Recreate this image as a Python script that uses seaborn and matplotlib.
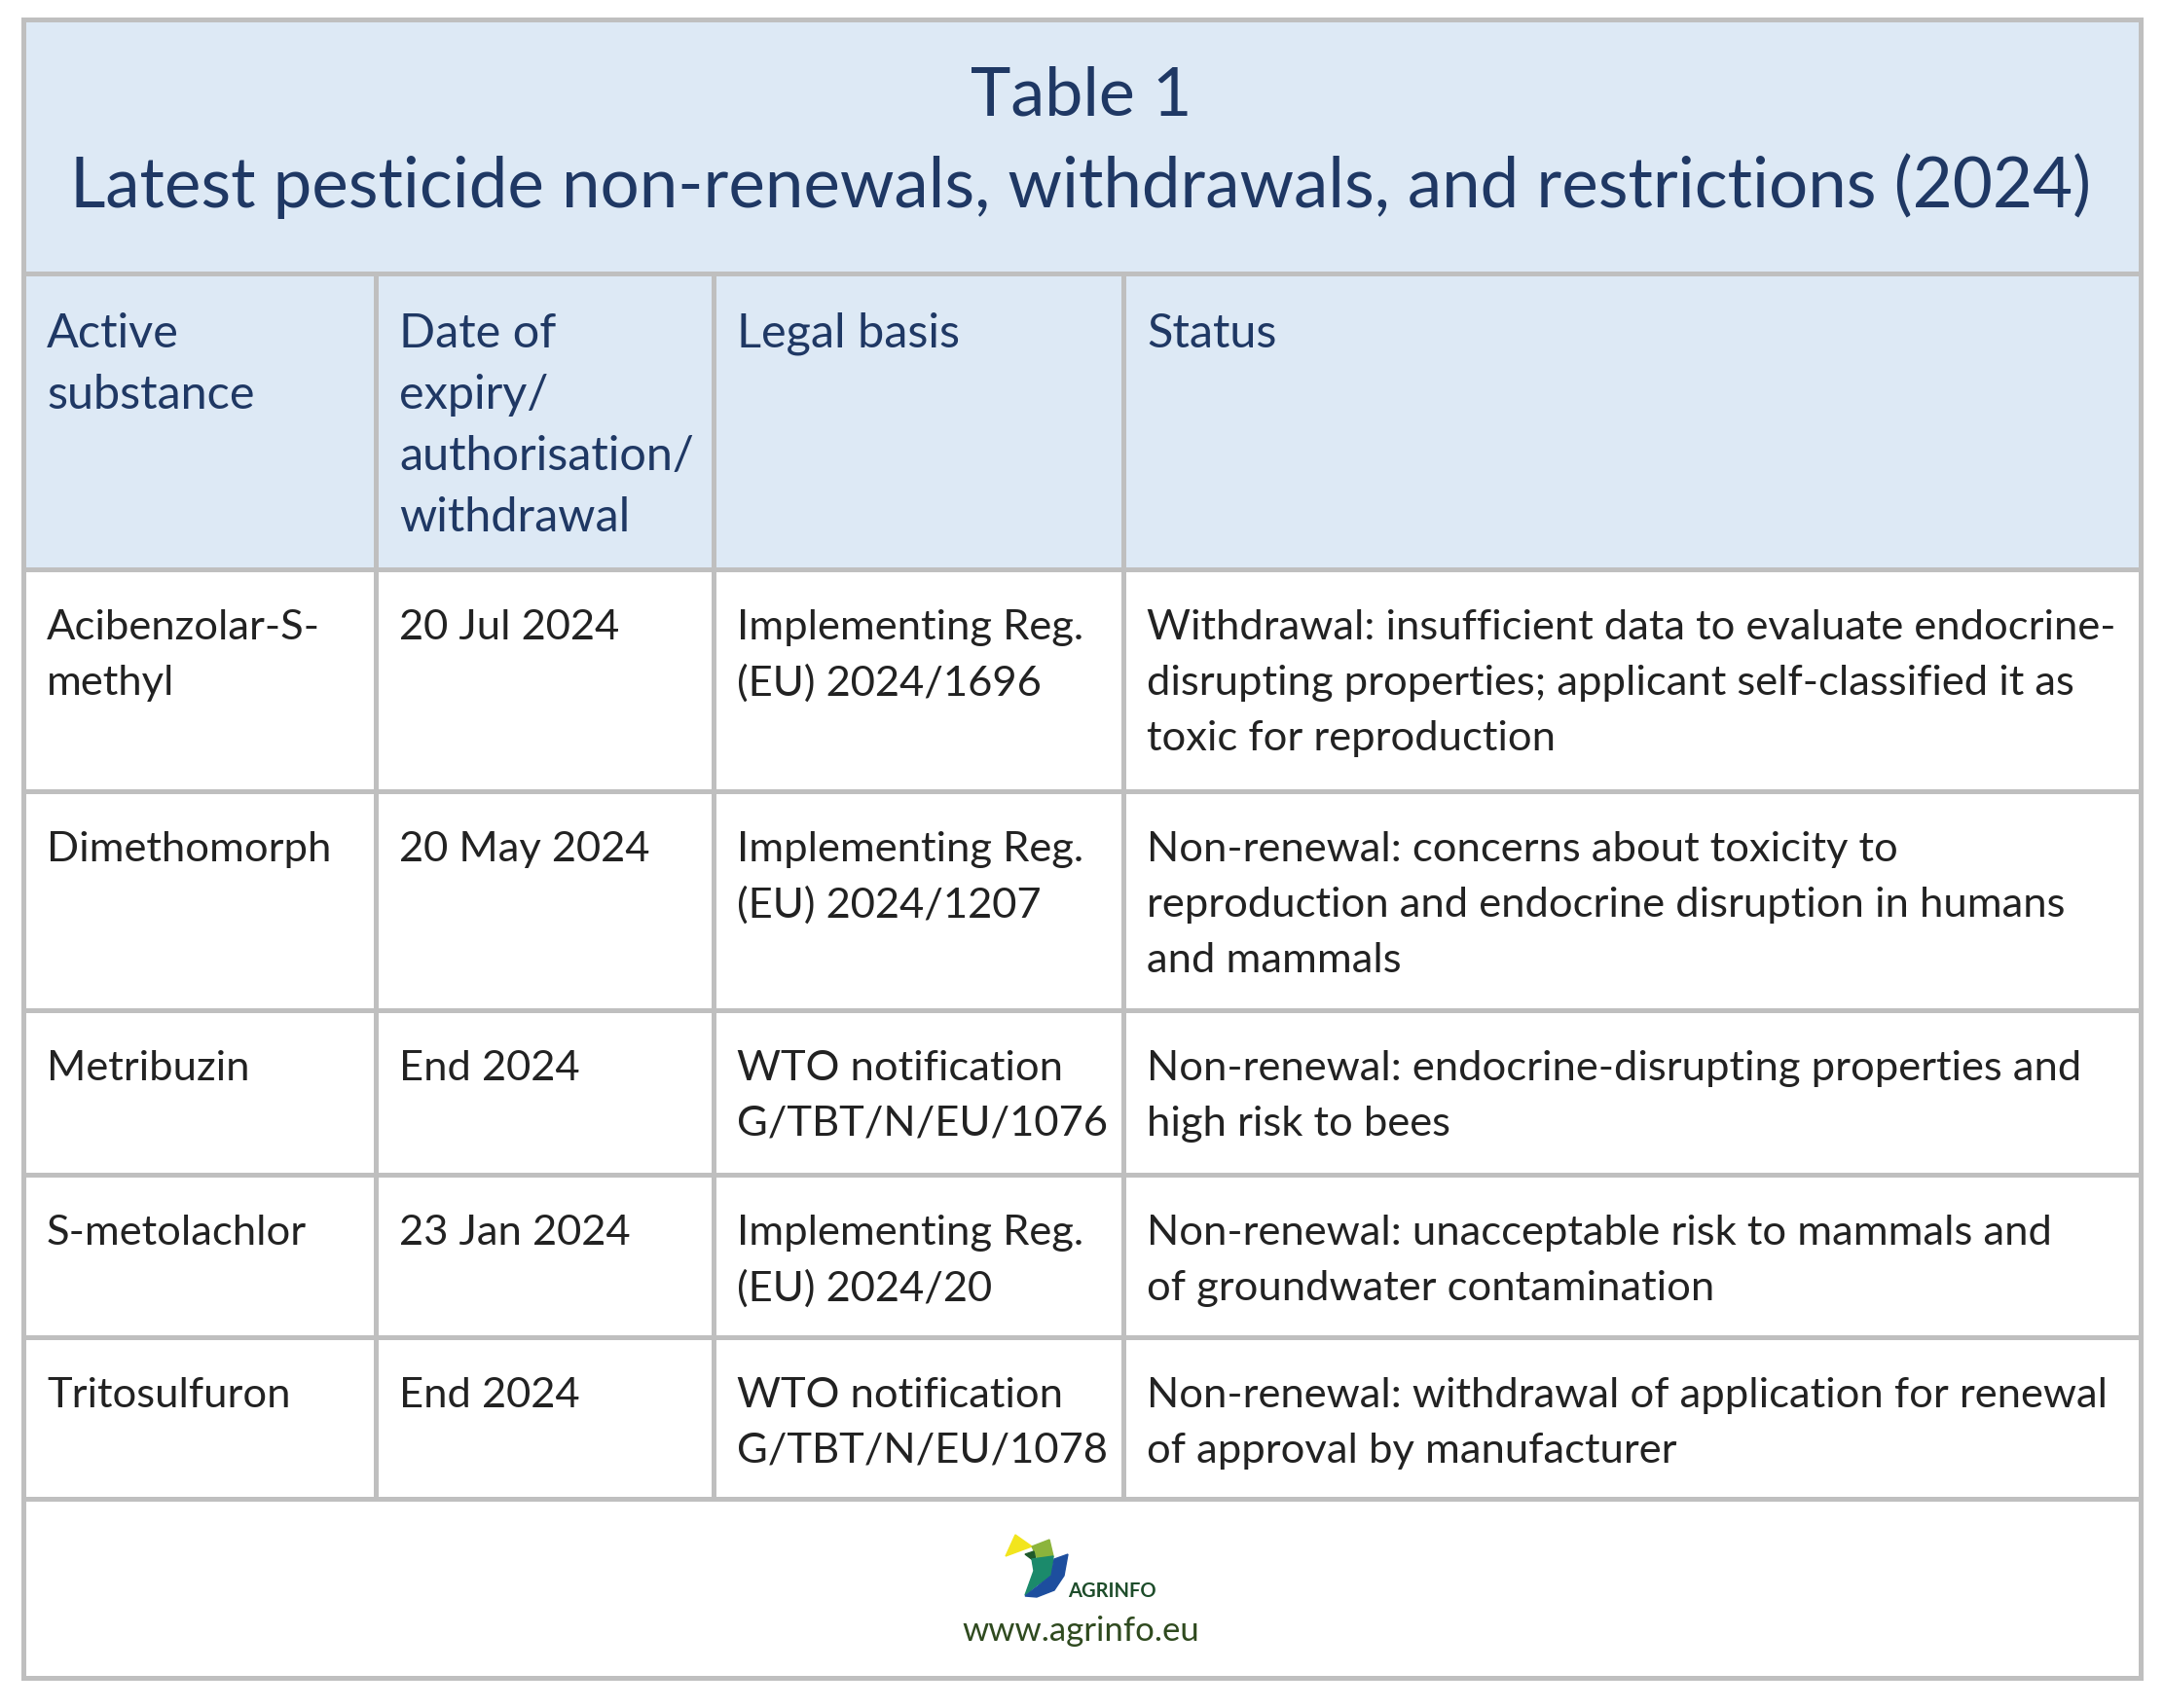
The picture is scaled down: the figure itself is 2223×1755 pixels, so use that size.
import seaborn as sns
import matplotlib.pyplot as plt
from matplotlib.patches import Rectangle, Polygon

sns.set_theme(style="white")
plt.rcParams['font.family'] = ['Lato', 'DejaVu Sans']

# datos de la tabla
title_lines = ["Table 1", "Latest pesticide non-renewals, withdrawals, and restrictions (2024)"]
headers = ["Active\nsubstance", "Date of\nexpiry/\nauthorisation/\nwithdrawal", "Legal basis", "Status"]
substances = ["Acibenzolar-S-\nmethyl", "Dimethomorph", "Metribuzin", "S-metolachlor", "Tritosulfuron"]
dates = ["20 Jul 2024", "20 May 2024", "End 2024", "23 Jan 2024", "End 2024"]
legal_basis = [
    "Implementing Reg.\n(EU) 2024/1696",
    "Implementing Reg.\n(EU) 2024/1207",
    "WTO notification\nG/TBT/N/EU/1076",
    "Implementing Reg.\n(EU) 2024/20",
    "WTO notification\nG/TBT/N/EU/1078",
]
status = [
    "Withdrawal: insufficient data to evaluate endocrine-\ndisrupting properties; applicant self-classified it as\ntoxic for reproduction",
    "Non-renewal: concerns about toxicity to\nreproduction and endocrine disruption in humans\nand mammals",
    "Non-renewal: endocrine-disrupting properties and\nhigh risk to bees",
    "Non-renewal: unacceptable risk to mammals and\nof groundwater contamination",
    "Non-renewal: withdrawal of application for renewal\nof approval by manufacturer",
]
footer_url = "www.agrinfo.eu"

# layout (px)
W, H = 2223, 1756
col_x = [24, 386, 733, 1154, 2199]
row_y = [21, 282, 586, 814, 1039, 1208, 1375, 1541, 1725]

blue_bg = "#dde9f5"
navy = "#1f3864"
grid = "#bfbfbf"
body = "#222222"

fig = plt.figure(figsize=(W / 100, H / 100), dpi=100)
ax = fig.add_axes([0, 0, 1, 1])
ax.set_xlim(0, W)
ax.set_ylim(H, 0)
ax.axis("off")

# fondos
ax.add_patch(Rectangle((col_x[0], row_y[0]), col_x[-1] - col_x[0], row_y[2] - row_y[0], color=blue_bg, zorder=0))

# lineas
lw = 3.6
for y in row_y:
    ax.plot([col_x[0], col_x[-1]], [y, y], color=grid, lw=lw, solid_capstyle="projecting", zorder=2)
for x in [col_x[0], col_x[-1]]:
    ax.plot([x, x], [row_y[0], row_y[-1]], color=grid, lw=lw, solid_capstyle="projecting", zorder=2)
for x in col_x[1:-1]:
    ax.plot([x, x], [row_y[1], row_y[-2]], color=grid, lw=lw, solid_capstyle="projecting", zorder=2)

# titulo
ax.text(W / 2 - 1, 99, title_lines[0], ha="center", va="center", fontsize=50.5, color=navy)
ax.text(W / 2 - 1, 191, title_lines[1], ha="center", va="center", fontsize=51, color=navy)


def put_lines(txt, x, y0, step, size, color):
    for i, line in enumerate(txt.split("\n")):
        ax.text(x, y0 + i * step, line, ha="left", va="center", fontsize=size, color=color)


pad = 24
for j, h in enumerate(headers):
    put_lines(h, col_x[j] + pad, row_y[1] + 61, 63, 35, navy)

columns = [substances, dates, legal_basis, status]
for i in range(len(substances)):
    top = row_y[2 + i]
    for j, col in enumerate(columns):
        put_lines(col[i], col_x[j] + pad, top + 59, 57, 31.3, body)

# logo agrinfo
ax.add_patch(Polygon([(1033, 1600), (1043, 1578), (1060, 1590)], color="#f2e51d", zorder=3))
ax.add_patch(Polygon([(1060, 1590), (1078, 1583), (1082, 1600), (1067, 1605)], color="#8cb43c", zorder=3))
ax.add_patch(Polygon([(1053, 1598), (1062, 1595), (1065, 1607)], color="#1f5a2a", zorder=3))
ax.add_patch(Polygon([(1060, 1603), (1082, 1600), (1080, 1620), (1065, 1630), (1053, 1640), (1062, 1615)],
                     color="#1b8a6b", zorder=3))
ax.add_patch(Polygon([(1053, 1641), (1080, 1620), (1083, 1603), (1097, 1598), (1093, 1620), (1083, 1635), (1065, 1642)],
                     color="#1d4e9e", zorder=3))
ax.text(1097, 1635, "AGRINFO", ha="left", va="center", fontsize=14.5, fontweight="bold", color="#1e4d2b")
ax.text(1110, 1676, footer_url, ha="center", va="center", fontsize=25, color="#2f4a1f")

fig.savefig("out.png", dpi=100, facecolor="white")
